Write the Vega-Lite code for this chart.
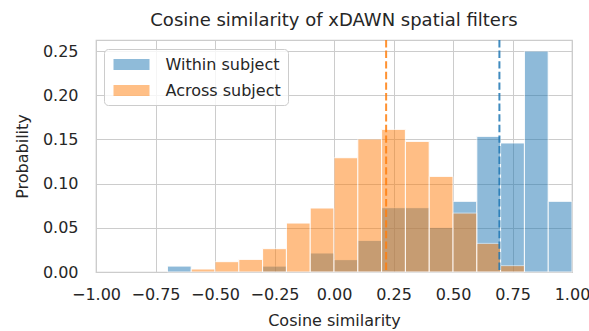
{
  "$schema": "https://vega.github.io/schema/vega-lite/v6.json",
  "width": 476,
  "height": 232,
  "autosize": "none",
  "padding": {"left": 96, "top": 40, "right": 17, "bottom": 59},
  "background": "white",
  "config": {
    "font": "DejaVu Sans",
    "view": {"stroke": "#cccccc", "strokeWidth": 1.25},
    "axis": {
      "grid": true, "gridColor": "#cccccc", "gridWidth": 1,
      "domain": false, "ticks": false, "labelOverlap": false, "labelFlush": false,
      "labelFont": "DejaVu Sans", "labelFontSize": 16, "labelColor": "#262626",
      "titleFont": "DejaVu Sans", "titleFontSize": 16, "titleColor": "#262626", "titleFontWeight": "normal"
    }
  },
  "title": {"text": "Cosine similarity of xDAWN spatial filters", "fontSize": 18, "font": "DejaVu Sans", "fontWeight": "normal", "color": "#262626", "offset": 9},
  "datasets": {
    "hist": [
      {"group": "Within subject", "bin_start": -0.7, "bin_end": -0.6, "prob": 0.0067},
      {"group": "Within subject", "bin_start": -0.3, "bin_end": -0.2, "prob": 0.0067},
      {"group": "Within subject", "bin_start": -0.1, "bin_end": 0.0, "prob": 0.0215},
      {"group": "Within subject", "bin_start": 0.0, "bin_end": 0.1, "prob": 0.014},
      {"group": "Within subject", "bin_start": 0.1, "bin_end": 0.2, "prob": 0.0358},
      {"group": "Within subject", "bin_start": 0.2, "bin_end": 0.3, "prob": 0.0728},
      {"group": "Within subject", "bin_start": 0.3, "bin_end": 0.4, "prob": 0.0728},
      {"group": "Within subject", "bin_start": 0.4, "bin_end": 0.5, "prob": 0.0505},
      {"group": "Within subject", "bin_start": 0.5, "bin_end": 0.6, "prob": 0.08},
      {"group": "Within subject", "bin_start": 0.6, "bin_end": 0.7, "prob": 0.1535},
      {"group": "Within subject", "bin_start": 0.7, "bin_end": 0.8, "prob": 0.146},
      {"group": "Within subject", "bin_start": 0.8, "bin_end": 0.9, "prob": 0.25},
      {"group": "Within subject", "bin_start": 0.9, "bin_end": 1.0, "prob": 0.08},
      {"group": "Across subject", "bin_start": -0.6, "bin_end": -0.5, "prob": 0.0034},
      {"group": "Across subject", "bin_start": -0.5, "bin_end": -0.4, "prob": 0.0117},
      {"group": "Across subject", "bin_start": -0.4, "bin_end": -0.3, "prob": 0.0143},
      {"group": "Across subject", "bin_start": -0.3, "bin_end": -0.2, "prob": 0.0264},
      {"group": "Across subject", "bin_start": -0.2, "bin_end": -0.1, "prob": 0.0554},
      {"group": "Across subject", "bin_start": -0.1, "bin_end": 0.0, "prob": 0.0724},
      {"group": "Across subject", "bin_start": 0.0, "bin_end": 0.1, "prob": 0.1293},
      {"group": "Across subject", "bin_start": 0.1, "bin_end": 0.2, "prob": 0.1505},
      {"group": "Across subject", "bin_start": 0.2, "bin_end": 0.3, "prob": 0.1614},
      {"group": "Across subject", "bin_start": 0.3, "bin_end": 0.4, "prob": 0.1478},
      {"group": "Across subject", "bin_start": 0.4, "bin_end": 0.5, "prob": 0.1082},
      {"group": "Across subject", "bin_start": 0.5, "bin_end": 0.6, "prob": 0.0667},
      {"group": "Across subject", "bin_start": 0.6, "bin_end": 0.7, "prob": 0.0324},
      {"group": "Across subject", "bin_start": 0.7, "bin_end": 0.8, "prob": 0.0072}
    ],
    "means": [
      {"group": "Within subject", "mean": 0.695},
      {"group": "Across subject", "mean": 0.219}
    ]
  },
  "layer": [
    {
      "data": {"name": "hist"},
      "mark": {"type": "bar", "opacity": 0.5, "stroke": "white", "strokeWidth": 1, "strokeOpacity": 1},
      "encoding": {
        "x": {"field": "bin_start", "type": "quantitative",
              "scale": {"domain": [-1, 1], "nice": false, "zero": false},
              "axis": {"values": [-1, -0.75, -0.5, -0.25, 0, 0.25, 0.5, 0.75, 1], "format": ".2f", "title": "Cosine similarity", "labelPadding": 14, "titlePadding": 10}},
        "x2": {"field": "bin_end"},
        "y": {"field": "prob", "type": "quantitative", "stack": null,
              "scale": {"domain": [0, 0.2625], "nice": false},
              "axis": {"values": [0, 0.05, 0.1, 0.15, 0.2, 0.25], "format": ".2f", "title": "Probability", "labelPadding": 18, "titlePadding": 12}},
        "y2": {"datum": 0},
        "color": {"field": "group", "type": "nominal",
                  "scale": {"domain": ["Within subject", "Across subject"], "range": ["#1f77b4", "#ff7f0e"]},
                  "legend": {"title": null, "orient": "none", "legendX": 8, "legendY": 9,
                             "symbolType": "M-2,-0.6H2V0.6H-2Z", "symbolSize": 324, "symbolOpacity": 0.5,
                             "symbolOffset": 12,
                             "symbolStrokeWidth": 0, "labelFontSize": 16, "labelFont": "DejaVu Sans", "labelColor": "#262626",
                             "rowPadding": 9, "labelOffset": 25, "padding": 6.5,
                             "fillColor": "rgba(255,255,255,0.8)", "strokeColor": "#cccccc", "cornerRadius": 4}}
      }
    },
    {
      "data": {"name": "means"},
      "mark": {"type": "rule", "strokeDash": [7.4, 3.2], "strokeWidth": 2, "opacity": 0.85},
      "encoding": {
        "x": {"field": "mean", "type": "quantitative"},
        "stroke": {"field": "group", "type": "nominal",
                   "scale": {"domain": ["Within subject", "Across subject"], "range": ["#1f77b4", "#ff7f0e"]},
                   "legend": null}
      }
    }
  ]
}
